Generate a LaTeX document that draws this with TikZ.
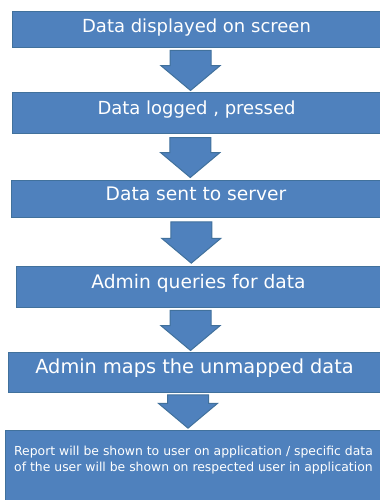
\documentclass[tikz,border=0pt]{standalone}
\usepackage{fontspec}
\setmainfont{DejaVu Sans}
\usepackage{tikz}
\usetikzlibrary{positioning, calc, shapes.arrows}
\usepackage{xcolor}

\definecolor{boxBlue}{HTML}{4F81BD}
\definecolor{edgeBlue}{HTML}{41719C}

\begin{document}
\begin{tikzpicture}[
    % 流程方块样式
    block/.style={rectangle, draw=edgeBlue, fill=boxBlue, line width=0.75pt, inner sep=0pt, text=white,
        font=\fontsize{14}{17}\selectfont, text height=10pt, text depth=8pt},
    % 下行块状箭头 (箭身宽度由 text height/depth 决定)
    blockarrow/.style={single arrow, draw=edgeBlue, fill=boxBlue, line width=0.75pt, inner sep=0pt,
        rotate=-90, anchor=tail, text width=0pt, text height=15pt, text depth=15pt,
        single arrow head extend=6.75pt, single arrow tip angle=100},
]

% ==================== 画布范围 ====================
\useasboundingbox (0,0) rectangle (284.25pt,-375pt);

% ==================== 各层 Y 坐标 ====================
\def\yA{-21.75pt}
\def\yB{-85.1pt}
\def\yC{-148.9pt}
\def\yD{-215.6pt}
\def\yE{-279pt}
\def\yF{-352.5pt}

% ==================== 流程方块 ====================
\node[block, minimum width=276.75pt, minimum height=27pt, font=\fontsize{13.5}{16}\selectfont, text depth=4.5pt]
    (b1) at (147.4pt, \yA) {Data displayed on screen};
\node[block, minimum width=276.75pt, minimum height=30.75pt, font=\fontsize{13.5}{16}\selectfont]
    (b2) at (147.4pt, \yB) {Data logged , pressed};
\node[block, minimum width=277.5pt, minimum height=27.75pt, text depth=6.75pt]
    (b3) at (147pt, \yC) {Data sent to server};
\node[block, minimum width=273.75pt, minimum height=30.75pt]
    (b4) at (148.9pt, \yD) {Admin queries for data};
\node[block, minimum width=279.75pt, minimum height=30pt, font=\fontsize{14.5}{17}\selectfont]
    (b5) at (145.9pt, \yE) {Admin maps the unmapped data};
\node[block, minimum width=281.25pt, minimum height=60pt, align=center,
      font=\fontsize{9.3}{12}\selectfont, text height=7pt, text depth=5.5pt]
    (b6) at (145.1pt, \yF) {Report will be shown to user on application / specific data\\of the user will be shown on respected user in application};

% ==================== 块状箭头 (箭尾对齐两方块间的中点上方) ====================
\foreach \i/\j/\len in {1/2/30, 2/3/30, 3/4/31, 4/5/30, 5/6/25}
    \node[blockarrow, minimum height=\len pt] (a\i) at ($(b\i.south)!0.5!(b\j.north) + (-4.5pt, \len pt/2)$) {};

\end{tikzpicture}
\end{document}
